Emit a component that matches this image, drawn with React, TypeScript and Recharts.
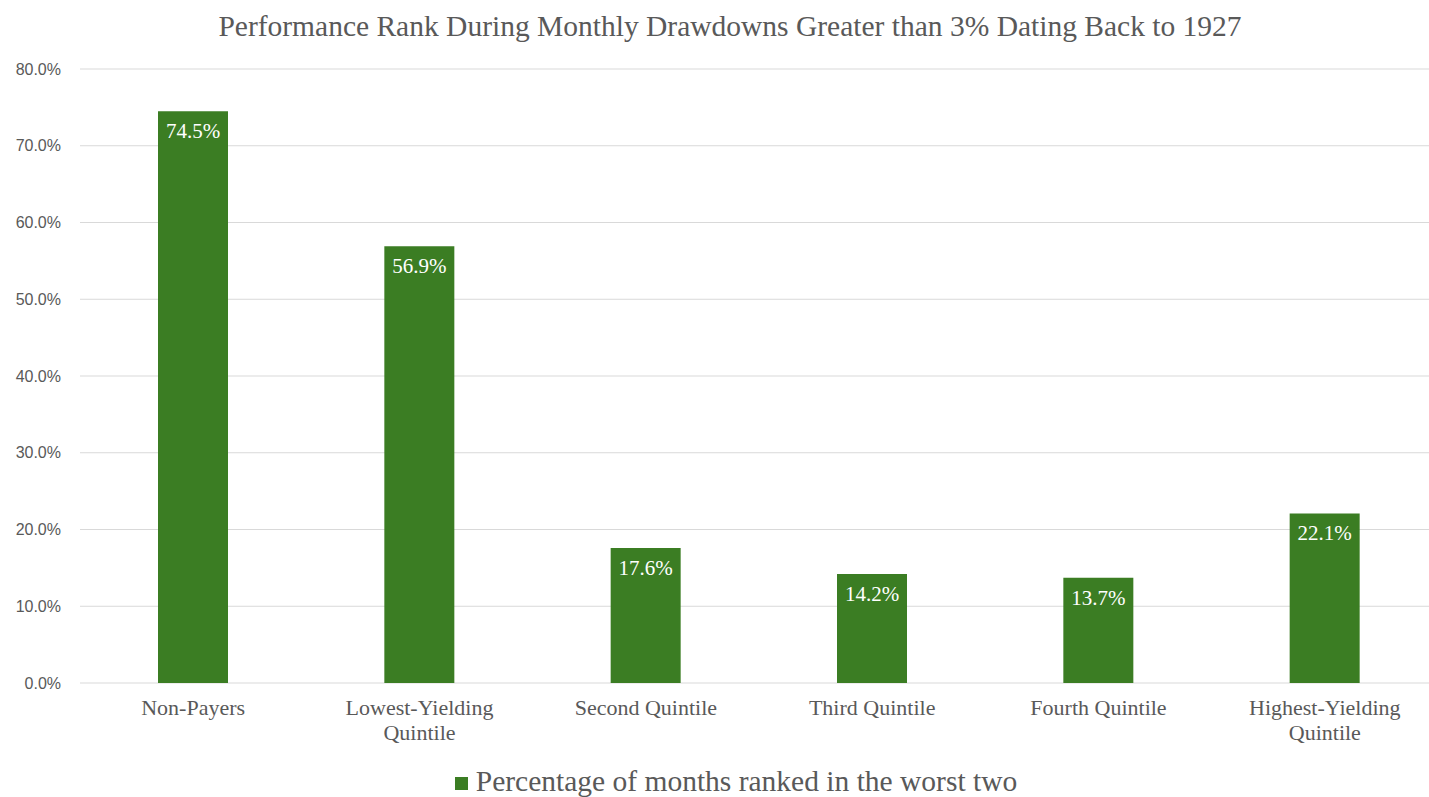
import { Bar, BarChart, CartesianGrid, LabelList, Legend, XAxis, YAxis } from "recharts";

const categories = [
  "Non-Payers",
  "Lowest-Yielding Quintile",
  "Second Quintile",
  "Third Quintile",
  "Fourth Quintile",
  "Highest-Yielding Quintile",
];
const worstTwoPct = [74.5, 56.9, 17.6, 14.2, 13.7, 22.1];
const yTicks = [0, 10, 20, 30, 40, 50, 60, 70, 80];
const seriesName = "Percentage of months ranked in the worst two";
const title = "Performance Rank During Monthly Drawdowns Greater than 3% Dating Back to 1927";

const data = categories.map((name, i) => ({ name, value: worstTwoPct[i] }));

const GREEN = "#3b7d23";
const GREY = "#595959";
const SERIF = "'Liberation Serif', 'Times New Roman', serif";

// wraps the two-word-ish labels like Excel does
function splitLabel(label: string): string[] {
  if (label.startsWith("Lowest-Yielding") || label.startsWith("Highest-Yielding")) {
    const idx = label.lastIndexOf(" ");
    return [label.slice(0, idx), label.slice(idx + 1)];
  }
  return [label];
}

function XTick(props: any) {
  const { x, y, payload } = props;
  const lines = splitLabel(payload.value);
  return (
    <text x={x} y={y} textAnchor="middle" fill={GREY} fontFamily={SERIF} fontSize={22}>
      {lines.map((l, i) => (
        <tspan key={i} x={x} dy={i === 0 ? 24 : 25}>
          {l}
        </tspan>
      ))}
    </text>
  );
}

function LegendBox() {
  return (
    <div
      style={{
        display: "flex",
        alignItems: "center",
        justifyContent: "center",
        paddingLeft: 34,
        fontFamily: SERIF,
        fontSize: 29.5,
        lineHeight: "32px",
        color: GREY,
        height: 32,
        whiteSpace: "nowrap",
      }}
    >
      <span style={{ width: 13, height: 13, background: GREEN, marginRight: 8, marginTop: 4 }} />
      {seriesName}
    </div>
  );
}

export default function App() {
  return (
    <div
      style={{
        position: "fixed",
        left: 0,
        top: 0,
        width: 1429,
        height: 797,
        background: "#fff",
        overflow: "hidden",
      }}
    >
      <div
        style={{
          position: "absolute",
          left: 0,
          top: 10,
          width: 1429,
          paddingLeft: 31,
          boxSizing: "border-box",
          textAlign: "center",
          fontFamily: SERIF,
          fontSize: 29.5,
          color: GREY,
          whiteSpace: "nowrap",
        }}
      >
        {title}
      </div>
      <BarChart
        width={1429}
        height={797}
        data={data}
        margin={{ top: 69, right: -9, left: 0, bottom: 0 }}
      >
        <CartesianGrid vertical={false} stroke="#d9d9d9" />
        <XAxis
          dataKey="name"
          axisLine={false}
          tickLine={false}
          height={82}
          interval={0}
          tick={<XTick />}
        />
        <YAxis
          width={80}
          domain={[0, 80]}
          ticks={yTicks}
          axisLine={false}
          tickLine={false}
          tickSize={0}
          tickMargin={19}
          tickFormatter={(v: number) => `${v.toFixed(1)}%`}
          tick={{ fill: GREY, fontSize: 16, fontFamily: "'Liberation Sans', Arial, sans-serif" }}
        />
        <Legend verticalAlign="bottom" height={32} content={<LegendBox />} />
        <Bar dataKey="value" name={seriesName} fill={GREEN} barSize={70} isAnimationActive={false}>
          <LabelList
            dataKey="value"
            position="insideTop"
            offset={12}
            fill="#fff"
            fontFamily={SERIF}
            fontSize={21}
            formatter={(v: any) => `${Number(v).toFixed(1)}%`}
          />
        </Bar>
      </BarChart>
    </div>
  );
}
